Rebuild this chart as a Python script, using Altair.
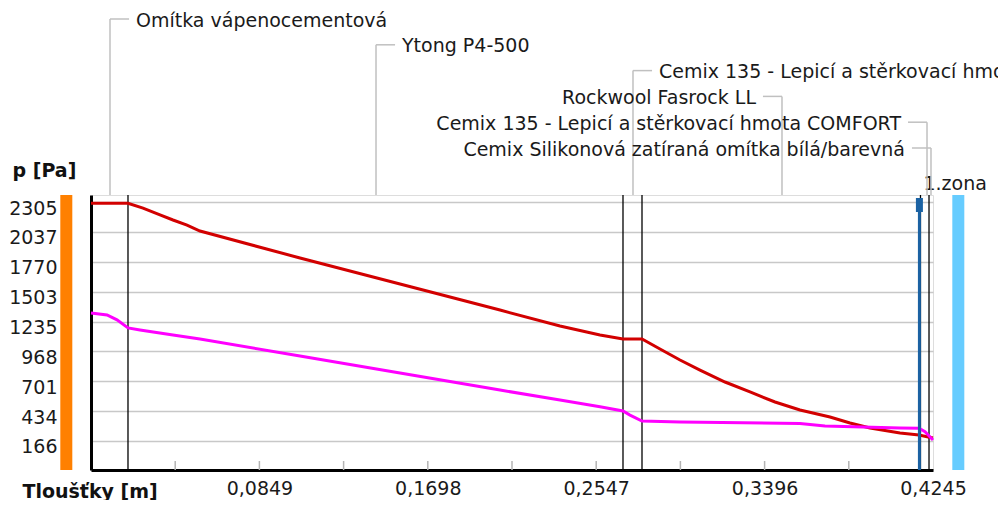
import altair as alt
import pandas as pd

# ---------------- data ----------------
# red line: saturation pressure
red_x = [0.0, 0.01865, 0.02622, 0.03479, 0.04134, 0.04840, 0.05495, 0.10537,
         0.15579, 0.20620, 0.23645, 0.25662, 0.26821, 0.27779, 0.28687, 0.29695,
         0.30703, 0.31964, 0.33224, 0.34485, 0.35745, 0.37257, 0.38266, 0.39274,
         0.40787, 0.41744, 0.4245]
red_p = [2293, 2293, 2251, 2189, 2144, 2099, 2045, 1804,
         1571, 1338, 1195, 1115, 1079, 1079, 989, 891,
         801, 694, 605, 515, 443, 381, 327, 282,
         237, 220, 193]

# magenta line: partial vapour pressure
mag_x = [0.0, 0.00807, 0.01311, 0.01865, 0.02470, 0.04134, 0.05495, 0.10537,
         0.15579, 0.20620, 0.23645, 0.25662, 0.26821, 0.27174, 0.27779, 0.29695,
         0.35745, 0.37005, 0.40787, 0.41744, 0.42047, 0.4245]
mag_p = [1312, 1294, 1250, 1178, 1160, 1115, 1079, 927,
         775, 622, 533, 473, 434, 398, 345, 336,
         322, 300, 282, 280, 249, 175]

# layer boundaries [m]
layer_edges = [0.01865, 0.26821, 0.27779, 0.41819, 0.42249]

# layer names and the x where their leader lines start
layer_names = ["Omítka vápenocementová",
               "Ytong P4-500",
               "Cemix 135 - Lepicí a stěrkovací hmota",
               "Rockwool Fasrock LL",
               "Cemix 135 - Lepicí a stěrkovací hmota COMFORT",
               "Cemix Silikonová zatíraná omítka bílá/barevná"]
leader_x = [0.00958, 0.14369, 0.27325, 0.34837, 0.42148, 0.42349]
leader_side = [1, 1, 1, -1, -1, -1]

# axes
y_ticks = [2305, 2037, 1770, 1503, 1235, 968, 701, 434, 166]
x_labels = [0.0849, 0.1698, 0.2547, 0.3396, 0.4245]
x_ticks = [0.04245, 0.0849, 0.12735, 0.1698, 0.21225, 0.2547, 0.29715, 0.3396, 0.38205]

# condensation zone marker
zone_x = [0.41765]
zone_label = ["1.zona"]

# interior / exterior side bars
side_x = [-0.01245, 0.43726]
side_color = ["#ff8000", "#66ccff"]

# ---------------- styling ----------------
X_DOMAIN = [0, 0.4245]
Y_DOMAIN = [-93.6, 2367.7]
W, H = 842, 275
FONT = "DejaVu Sans"
FS = 19
TXT = "#1a1a1a"
GRAY = "#c0c0c0"
STUB = 0.0096
ROW0, ROWSTEP = -176, 25.8

xs = alt.Scale(domain=X_DOMAIN, nice=False, zero=False)
ys = alt.Scale(domain=Y_DOMAIN, nice=False, zero=False)

x_axis = alt.Axis(values=x_labels,
                  labelExpr="replace(format(datum.value, '.4f'), '.', ',')",
                  grid=False, ticks=False, domainColor="black", domainWidth=3,
                  labelFont=FONT, labelFontSize=FS, labelColor=TXT,
                  labelPadding=18, labelBaseline="middle",
                  labelFlush=False, labelOverlap=False,
                  title="Tloušťky [m]", titleFont=FONT, titleFontSize=FS,
                  titleFontWeight="bold", titleColor="#111111",
                  titleAlign="left", titleBaseline="middle",
                  titleX=-69, titleY=21, zindex=0)
y_axis = alt.Axis(values=y_ticks, format="d", grid=True, gridColor="#c8c8c8", gridWidth=1.5,
                  ticks=False, domainColor="black", domainWidth=3,
                  labelFont=FONT, labelFontSize=FS, labelColor=TXT,
                  labelPadding=34, labelOffset=6, labelOverlap=False,
                  title="p [Pa]", titleFont=FONT, titleFontSize=FS,
                  titleFontWeight="bold", titleColor="#111111", titleAngle=0,
                  titleAlign="left", titleBaseline="middle",
                  titleX=-79, titleY=-25, zindex=0)


def X(f="x:Q"):
    return alt.X(f, scale=xs, axis=x_axis)


def Y(f="p:Q"):
    return alt.Y(f, scale=ys, axis=y_axis)


red_df = pd.DataFrame({"x": red_x, "p": red_p})
mag_df = pd.DataFrame({"x": mag_x, "p": mag_p})

layers = []

sides = alt.Chart(pd.DataFrame({"x": side_x, "c": side_color})).mark_rule(
    strokeWidth=12).encode(x=X(), color=alt.Color("c:N", scale=None))
layers.append(sides)

edges = alt.Chart(pd.DataFrame({"x": layer_edges})).mark_rule(
    color="black", strokeWidth=1.3).encode(x=X())
layers.append(edges)

ticks = alt.Chart(pd.DataFrame({"x": x_ticks})).mark_rule(
    color="#b4b4b4", strokeWidth=1.5).encode(x=X(), y=alt.value(H), y2=alt.value(H - 9))
layers.append(ticks)

red = alt.Chart(red_df).mark_line(color="#d20000", strokeWidth=3).encode(x=X(), y=Y())
mag = alt.Chart(mag_df).mark_line(color="#ff00ff", strokeWidth=3).encode(x=X(), y=Y())
layers += [red, mag]

zone_df = pd.DataFrame({"x": zone_x, "t": zone_label})
zone_line = alt.Chart(zone_df).mark_rule(color="#1b62a3", strokeWidth=3).encode(
    x=X(), y=alt.value(16), y2=alt.value(H))
zone_cap = alt.Chart(zone_df).mark_rule(color="#1b62a3", strokeWidth=7).encode(
    x=X(), y=alt.value(3), y2=alt.value(17))
zone_txt = alt.Chart(zone_df).mark_text(
    align="left", baseline="middle", dx=4, font=FONT, fontSize=FS, color=TXT).encode(
    x=X(), y=alt.value(-11), text="t:N")
layers += [zone_line, zone_cap, zone_txt]

for i, (name, lx, side) in enumerate(zip(layer_names, leader_x, leader_side)):
    ypx = ROW0 + ROWSTEP * i
    df = pd.DataFrame({"x": [lx], "x2": [lx + side * STUB], "name": [name]})
    v = alt.Chart(df).mark_rule(color=GRAY, strokeWidth=1.5).encode(
        x=X(), y=alt.value(ypx), y2=alt.value(0))
    h = alt.Chart(df).mark_rule(color=GRAY, strokeWidth=1.5).encode(
        x=X(), x2="x2:Q", y=alt.value(ypx))
    t = alt.Chart(df).mark_text(
        align="left" if side > 0 else "right", baseline="middle",
        dx=26 * side, dy=1.5, font=FONT, fontSize=FS, color=TXT).encode(
        x=X(), y=alt.value(ypx), text="name:N")
    layers += [v, h, t]

chart = alt.layer(*layers).properties(
    width=W, height=H,
    padding={"left": 83, "top": 187, "right": 65, "bottom": 30},
    autosize=alt.AutoSizeParams(type="none"),
    background="white",
).configure_view(stroke="black", strokeWidth=1).configure(font=FONT)

chart.save("out.html", embed_options={"renderer": "svg", "actions": False})
